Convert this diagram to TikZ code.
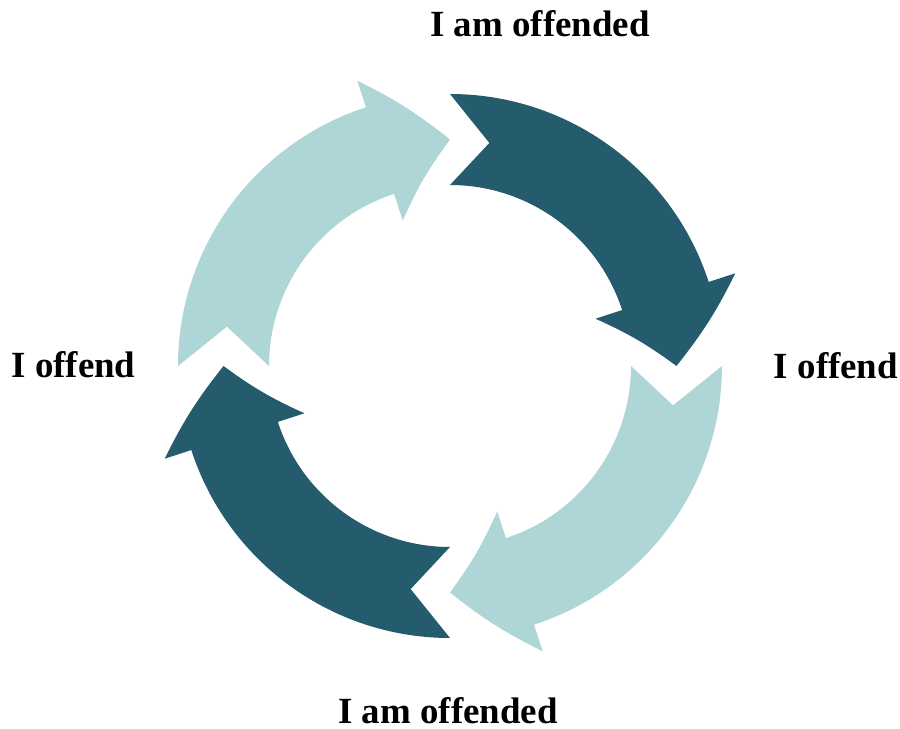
\documentclass[tikz,border=0pt]{standalone}
\usepackage{fontspec}
\setmainfont{Liberation Serif}
\definecolor{cycledark}{RGB}{37,92,109}
\definecolor{cyclelight}{RGB}{174,214,214}

\begin{document}
\begin{tikzpicture}[label node/.style={font=\bfseries\fontsize{21}{25}\selectfont, inner sep=0pt}]
\tikzstyle{dark arrow} = [fill=cycledark, draw=none]
\tikzstyle{light arrow} = [fill=cyclelight, draw=none]

\useasboundingbox (-9,-7.26) rectangle (9,7.32);
\coordinate (centre) at (0,0);

% top right, dark
\fill[dark arrow] (90:5.44) arc[start angle=90, end angle=18, radius=5.44] -- (18:6.0) to[bend left=6] (0:4.53) to[bend right=6] (18:3.06) -- (18:3.62) arc[start angle=18, end angle=90, radius=3.62] -- (80:4.53) -- cycle;

% bottom right, light
\fill[light arrow] (0:5.44) arc[start angle=0, end angle=-72, radius=5.44] -- (-72:6.0) to[bend left=6] (-90:4.53) to[bend right=6] (-72:3.06) -- (-72:3.62) arc[start angle=-72, end angle=0, radius=3.62] -- (-10:4.53) -- cycle;

% bottom left, dark
\fill[dark arrow] (270:5.44) arc[start angle=270, end angle=198, radius=5.44] -- (198:6.0) to[bend left=6] (180:4.53) to[bend right=6] (198:3.06) -- (198:3.62) arc[start angle=198, end angle=270, radius=3.62] -- (260:4.53) -- cycle;

% top left, light
\fill[light arrow] (180:5.44) arc[start angle=180, end angle=108, radius=5.44] -- (108:6.0) to[bend left=6] (90:4.53) to[bend right=6] (108:3.06) -- (108:3.62) arc[start angle=108, end angle=180, radius=3.62] -- (170:4.53) -- cycle;

% Labels
\node[label node] (offendedtop) at (1.8, 6.84) {I am offended};
\node[label node] (offendright) at (7.72, 0) {I offend};
\node[label node] (offendedbottom) at (-0.04, -6.9) {I am offended};
\node[label node] (offendleft) at (-7.53, 0.02) {I offend};

\end{tikzpicture}
\end{document}
